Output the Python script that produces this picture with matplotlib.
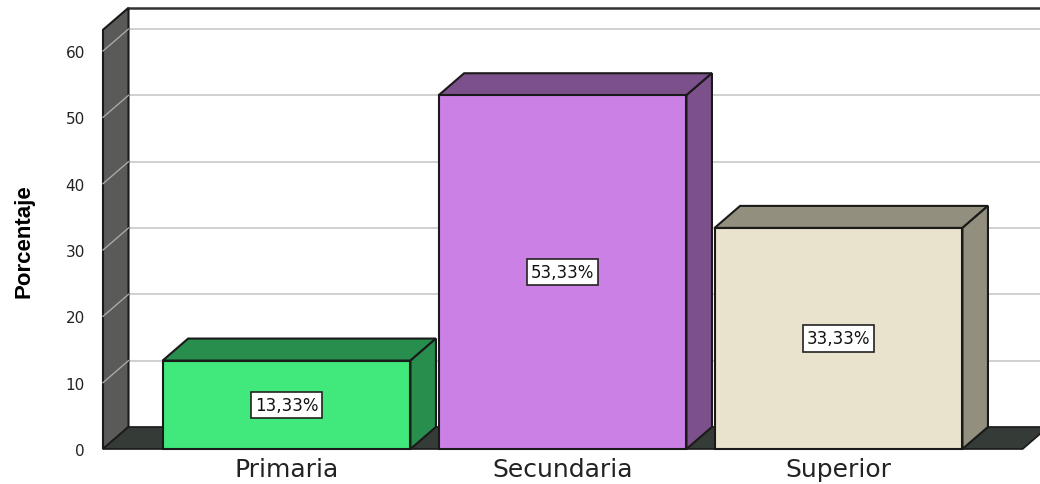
import matplotlib.pyplot as plt
from matplotlib.patches import Polygon

# data
categories = ["Primaria", "Secundaria", "Superior"]
percentages = [13.33, 53.33, 33.33]
value_labels = ["13,33%", "53,33%", "33,33%"]
y_ticks = [0, 10, 20, 30, 40, 50, 60]

front_colors = ["#41e87c", "#cb80e5", "#e9e2cc"]
side_colors = ["#278e4e", "#7c508a", "#938f7f"]

# 3D look (in data units)
half_w = 0.449
dx = 0.0924
dy = 3.32
x_left = -0.665
x_right = 2.73
floor_right = 2.667
y_top = 63.2

fig = plt.figure(figsize=(10.4, 4.85), dpi=100)
ax = fig.add_axes([103 / 1040, 35 / 485, (1040 - 103) / 1040, 450 / 485])
ax.set_xlim(x_left, x_right)
ax.set_ylim(0, 450 / 6.633)
for s in ax.spines.values():
    s.set_visible(False)

edge = "#1a1a1a"

# left wall
wall = Polygon([(x_left, 0), (x_left + dx, dy), (x_left + dx, y_top + dy), (x_left, y_top)],
               closed=True, facecolor="#5a5a58", edgecolor=edge, lw=1.5, clip_on=False, zorder=1)
ax.add_patch(wall)

# back wall grid lines + slanted lines on the wall
for v in y_ticks[1:]:
    ax.plot([x_left + dx, x_right + 0.1], [v + dy, v + dy], color="#c8c8c8", lw=1.2, clip_on=False, zorder=0.5)
    ax.plot([x_left, x_left + dx], [v, v + dy], color="#a8a8a8", lw=1.0, clip_on=False, zorder=1.5)
ax.plot([x_left + dx, x_right + 0.1], [y_top + dy, y_top + dy], color="#333333", lw=1.8, clip_on=False, zorder=0.6)

# floor
floor = Polygon([(x_left, 0), (floor_right, 0), (floor_right + dx, dy), (x_left + dx, dy)],
                closed=True, facecolor="#353b37", edgecolor=edge, lw=1.2, clip_on=False, zorder=2)
ax.add_patch(floor)

# bars
for i, (v, fc, sc, lab) in enumerate(zip(percentages, front_colors, side_colors, value_labels)):
    x0, x1 = i - half_w, i + half_w
    top = Polygon([(x0, v), (x1, v), (x1 + dx, v + dy), (x0 + dx, v + dy)],
                  closed=True, facecolor=sc, edgecolor=edge, lw=1.5, clip_on=False, zorder=3)
    side = Polygon([(x1, 0), (x1 + dx, dy), (x1 + dx, v + dy), (x1, v)],
                   closed=True, facecolor=sc, edgecolor=edge, lw=1.5, clip_on=False, zorder=3)
    front = Polygon([(x0, 0), (x1, 0), (x1, v), (x0, v)],
                    closed=True, facecolor=fc, edgecolor=edge, lw=1.5, clip_on=False, zorder=4)
    ax.add_patch(top)
    ax.add_patch(side)
    ax.add_patch(front)
    ax.text(i, v / 2, lab, ha="center", va="center", fontsize=12, color="#111111", zorder=5,
            bbox=dict(boxstyle="square,pad=0.25", facecolor="white", edgecolor="#222222", lw=1.2))

# ticks
ax.set_yticks(y_ticks)
ax.set_yticklabels([str(t) for t in y_ticks], fontsize=11, color="#222222")
ax.set_xticks(range(len(categories)))
ax.set_xticklabels(categories, fontsize=18, color="#222222")
ax.tick_params(axis="y", length=0, pad=13)
ax.tick_params(axis="x", length=0, pad=6)

fig.text(24 / 1040, 1 - 241 / 485, "Porcentaje", rotation=90, ha="center", va="center",
         fontsize=16, fontweight="bold", family=["Liberation Sans Narrow", "Liberation Sans"])

fig.savefig("out.png", dpi=100)
